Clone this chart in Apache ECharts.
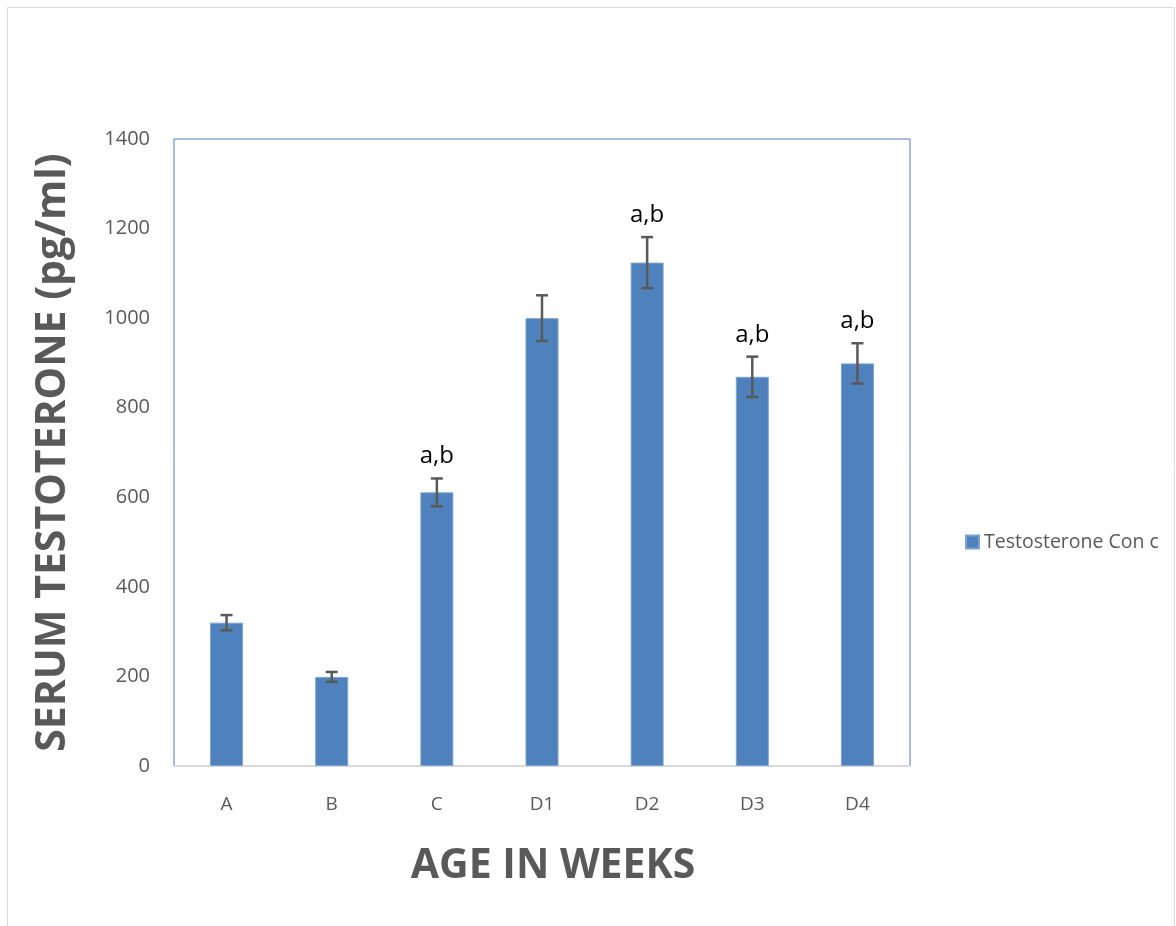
<!DOCTYPE html>
<html>
<head>
<meta charset="utf-8">
<script src="https://cdn.jsdelivr.net/npm/echarts@6/dist/echarts.min.js"></script>
<style>
html, body { margin: 0; padding: 0; background: #ffffff; }
#main { width: 1176px; height: 926px; }
</style>
</head>
<body>
<div id="main"></div>
<script>
var categories = ['A', 'B', 'C', 'D1', 'D2', 'D3', 'D4'];
var values = [320, 199, 611, 1000, 1124, 869, 899];
var errors = [17, 11, 31, 51, 57, 45, 45];
var marks = ['', '', 'a,b', '', 'a,b', 'a,b', 'a,b'];
var yTicks = [0, 200, 400, 600, 800, 1000, 1200, 1400];

var chart = echarts.init(document.getElementById('main'));

var errData = values.map(function (v, i) {
	return [i, v - errors[i], v + errors[i], marks[i]];
});

var option = {
	backgroundColor: '#ffffff',
	animation: false,
	textStyle: { fontFamily: 'Open Sans' },
	graphic: [{
		type: 'rect',
		left: 5, top: 5,
		shape: { width: 1167, height: 940 },
		style: { fill: 'none', stroke: '#d9d9d9', lineWidth: 1 },
		silent: true
	}],
	grid: {
		left: 174, top: 139, right: 266, bottom: 160,
		show: true,
		borderColor: '#4a7ebb',
		borderWidth: 1
	},
	legend: {
		left: 960, top: 527,
		itemWidth: 13, itemHeight: 13,
		itemGap: 6,
		icon: 'rect',
		data: ['Testosterone Con c'],
		textStyle: { fontSize: 19.5, color: '#595959', fontFamily: 'Open Sans' }
	},
	xAxis: {
		type: 'category',
		data: categories,
		name: 'AGE IN WEEKS',
		nameLocation: 'middle',
		nameGap: 80,
		nameTextStyle: { fontSize: 41, fontWeight: 'bold', color: '#595959', fontFamily: 'Open Sans', padding: [0, 0, 0, 22] },
		axisLine: { lineStyle: { color: '#d9d9d9', width: 2 } },
		axisTick: { show: false },
		axisLabel: { fontSize: 19, color: '#595959', margin: 29 }
	},
	yAxis: {
		type: 'value',
		min: 0, max: 1400, interval: 200,
		name: 'SERUM TESTOTERONE (pg/ml)',
		nameLocation: 'middle',
		nameGap: 100,
		nameRotate: 90,
		nameTextStyle: { fontSize: 41, fontWeight: 'bold', color: '#595959', fontFamily: 'Open Sans' },
		axisLine: { show: false },
		axisTick: { show: false },
		splitLine: { show: false },
		axisLabel: {
			fontSize: 20, color: '#595959', margin: 24,
			formatter: function (v) { return yTicks.indexOf(v) >= 0 ? String(v) : ''; }
		}
	},
	series: [{
		name: 'Testosterone Con c',
		type: 'bar',
		data: values,
		barWidth: 33,
		itemStyle: { color: '#4f81bd', borderColor: '#7da2d1', borderWidth: 1 }
	}, {
		type: 'custom',
		data: errData,
		z: 10,
		renderItem: function (params, api) {
			var x = api.coord([api.value(0), api.value(1)])[0];
			var lo = api.coord([api.value(0), api.value(1)])[1];
			var hi = api.coord([api.value(0), api.value(2)])[1];
			var cap = 6;
			var st = { stroke: '#595959', lineWidth: 2.5 };
			var kids = [
				{ type: 'line', shape: { x1: x, y1: lo, x2: x, y2: hi }, style: st },
				{ type: 'line', shape: { x1: x - cap, y1: lo, x2: x + cap, y2: lo }, style: st },
				{ type: 'line', shape: { x1: x - cap, y1: hi, x2: x + cap, y2: hi }, style: st }
			];
			var mark = marks[params.dataIndex];
			if (mark) {
				kids.push({
					type: 'text',
					style: {
						text: mark, x: x, y: hi - 10,
						textAlign: 'center', textVerticalAlign: 'bottom',
						fill: '#000000', fontSize: 24, fontFamily: 'Open Sans'
					}
				});
			}
			return { type: 'group', children: kids };
		}
	}]
};

chart.setOption(option);
</script>
</body>
</html>
